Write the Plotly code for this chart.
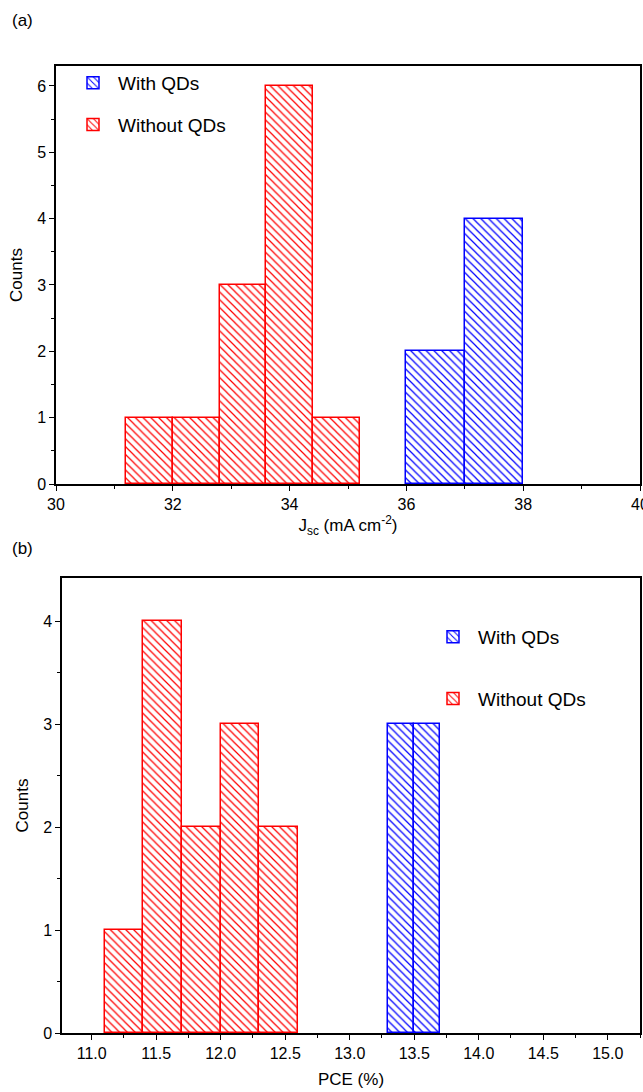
import plotly.graph_objects as go

# ---- data ----
# Panel (a): Jsc histogram
jsc_without_edges = [31.2, 32.0, 32.8, 33.6, 34.4, 35.2]
jsc_without_counts = [1, 1, 3, 6, 1]
jsc_with_edges = [36.0, 37.0, 38.0]
jsc_with_counts = [2, 4]

# Panel (b): PCE histogram
pce_without_edges = [11.1, 11.4, 11.7, 12.0, 12.3, 12.6]
pce_without_counts = [1, 4, 2, 3, 2]
pce_with_edges = [13.3, 13.5, 13.7]
pce_with_counts = [3, 3]

series_names = ["With QDs", "Without QDs"]
jsc_ticks = [30, 32, 34, 36, 38, 40]
pce_ticks = [11.0, 11.5, 12.0, 12.5, 13.0, 13.5, 14.0, 14.5, 15.0]

RED = "#ff0000"
BLUE = "#0000ff"
FONT = "Liberation Sans, Arial, sans-serif"
W, H = 643, 1092


def centers(edges):
    return [(a + b) / 2 for a, b in zip(edges[:-1], edges[1:])]


def widths(edges):
    return [b - a for a, b in zip(edges[:-1], edges[1:])]


def hist_bar(edges, counts, color, name, xa, ya, legend, group):
    return go.Bar(
        x=centers(edges), y=counts, width=widths(edges), name=name,
        xaxis=xa, yaxis=ya, legend=legend, legendgroup=group,
        marker=dict(color="white", line=dict(color=color, width=1.5),
                    pattern=dict(shape="\\", fgcolor=color, bgcolor="white",
                                 fgopacity=1, size=5.5, solidity=0.22)),
    )


fig = go.Figure()
fig.add_trace(hist_bar(jsc_with_edges, jsc_with_counts, BLUE, series_names[0], "x", "y", "legend", "a1"))
fig.add_trace(hist_bar(jsc_without_edges, jsc_without_counts, RED, series_names[1], "x", "y", "legend", "a2"))
fig.add_trace(hist_bar(pce_with_edges, pce_with_counts, BLUE, series_names[0], "x2", "y2", "legend2", "b1"))
fig.add_trace(hist_bar(pce_without_edges, pce_without_counts, RED, series_names[1], "x2", "y2", "legend2", "b2"))

axis_common = dict(
    showline=True, linecolor="black", linewidth=1.5, mirror=True,
    ticks="outside", ticklen=5, tickwidth=1.2, tickcolor="black",
    showgrid=False, zeroline=False, automargin=False,
    ticklabeloverflow="allow",
    tickfont=dict(family=FONT, size=16, color="black"),
)

fig.update_layout(
    width=W, height=H,
    margin=dict(l=0, r=0, t=0, b=0),
    paper_bgcolor="white", plot_bgcolor="white",
    bargap=0, barmode="overlay",
    font=dict(family=FONT, color="black"),
    xaxis=dict(domain=[56 / W, 640 / W], range=[30, 40], tickvals=jsc_ticks,
               minor=dict(dtick=1, ticks="outside", ticklen=3, tickcolor="black"),
               title=dict(text="J<sub>sc</sub> (mA cm<sup>-2</sup>)", font=dict(size=17), standoff=4),
               anchor="y", **axis_common),
    yaxis=dict(domain=[1 - 484 / H, 1 - 66 / H], range=[0, 6.3], dtick=1, tick0=0,
               minor=dict(dtick=0.5, ticks="outside", ticklen=3, tickcolor="black"),
               title=dict(text="Counts", font=dict(size=17), standoff=10),
               anchor="x", **axis_common),
    xaxis2=dict(domain=[62 / W, 640 / W], range=[10.77, 15.25], tickvals=pce_ticks,
                ticktext=[f"{v:.1f}" for v in pce_ticks],
                minor=dict(dtick=0.25, tick0=11.0, ticks="outside", ticklen=3, tickcolor="black"),
                title=dict(text="PCE (%)", font=dict(size=17), standoff=12),
                anchor="y2", **axis_common),
    yaxis2=dict(domain=[1 - 1033 / H, 1 - 578 / H], range=[0, 4.42], dtick=1, tick0=0,
                minor=dict(dtick=0.5, ticks="outside", ticklen=3, tickcolor="black"),
                title=dict(text="Counts", font=dict(size=17), standoff=10),
                anchor="x2", **axis_common),
    legend=dict(x=68 / W, y=1 - 64 / H, xanchor="left", yanchor="top",
                bgcolor="rgba(0,0,0,0)", font=dict(family=FONT, size=19),
                tracegroupgap=14, itemwidth=40),
    legend2=dict(x=428 / W, y=1 - 618 / H, xanchor="left", yanchor="top",
                 bgcolor="rgba(0,0,0,0)", font=dict(family=FONT, size=19),
                 tracegroupgap=34, itemwidth=40),
    annotations=[
        dict(text="(a)", x=10 / W, y=1 - 20 / H, xref="paper", yref="paper",
             xanchor="left", yanchor="middle", showarrow=False, font=dict(size=17)),
        dict(text="(b)", x=10 / W, y=1 - 548 / H, xref="paper", yref="paper",
             xanchor="left", yanchor="middle", showarrow=False, font=dict(size=17)),
    ],
)

fig.write_html("out.html")
